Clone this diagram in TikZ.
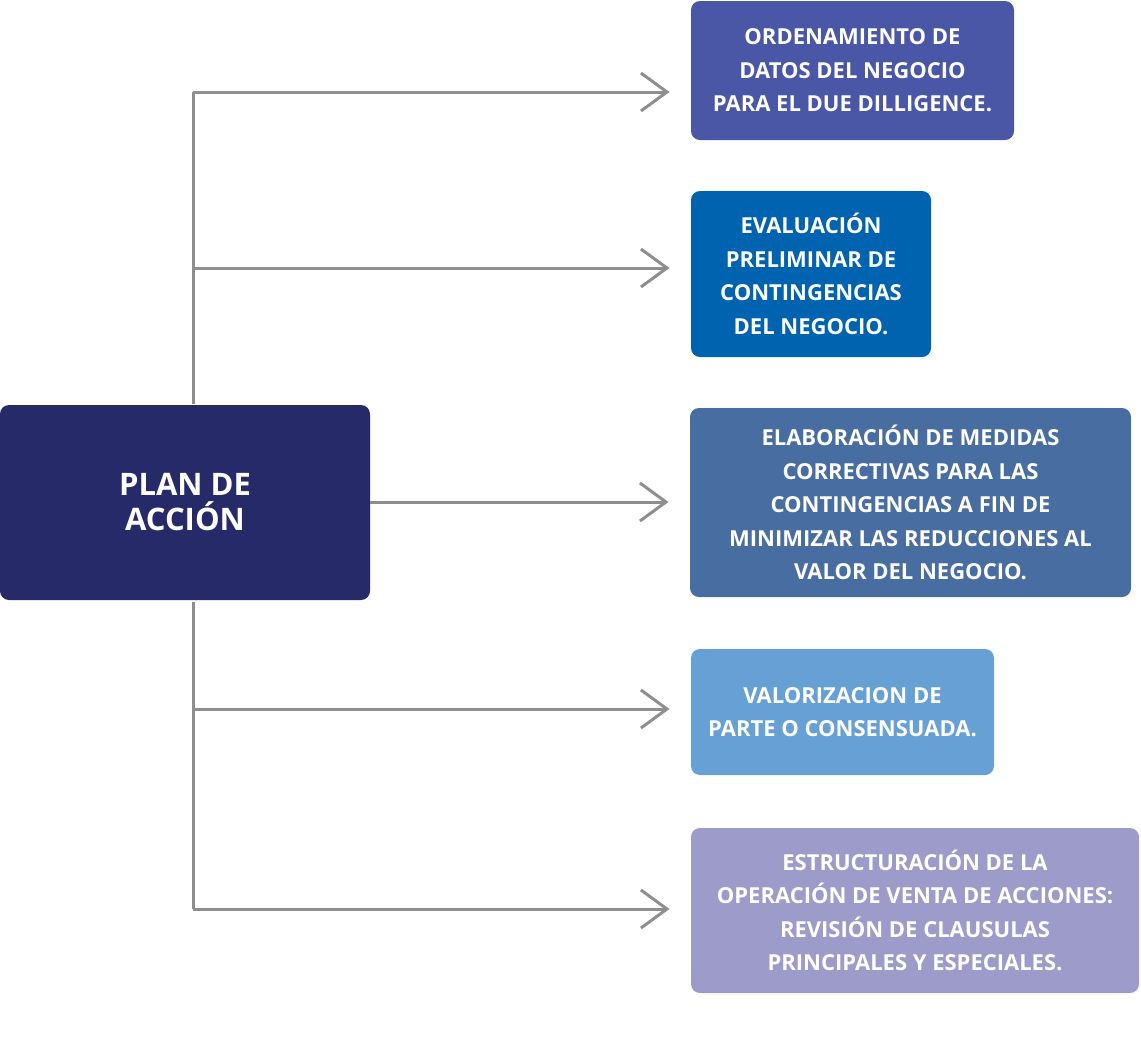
\documentclass[tikz,border=0pt]{standalone}
\usepackage{fontspec}
\setmainfont{Open Sans}
\usetikzlibrary{arrows.meta}
\definecolor{planblue}{HTML}{272A69}
\definecolor{boxone}{HTML}{4A56A6}
\definecolor{boxtwo}{HTML}{0063AF}
\definecolor{boxthree}{HTML}{486DA0}
\definecolor{boxfour}{HTML}{67A0D4}
\definecolor{boxfive}{HTML}{9D9BCA}
\definecolor{linegray}{HTML}{8E8E8E}
\begin{document}
\begin{tikzpicture}[x=1pt, y=-1pt, line width=3pt,
  main node/.style={rectangle, rounded corners=9pt, text=white, align=center, inner sep=0pt, font=\bfseries\fontsize{22}{33.5}\selectfont},
  arr/.style={draw=linegray, -{Straight Barb[length=26pt, width=38pt, line width=3pt]}, shorten >=20pt}]%
\useasboundingbox (0,0) rectangle (1141,1058);
\begin{scope}
\node[main node, fill=planblue, minimum width=370pt, minimum height=195pt, font=\bfseries\fontsize{31}{35}\selectfont] (plan) at (185,502.5) {PLAN DE\\ACCIÓN};
\node[main node, fill=boxone, minimum width=323pt, minimum height=139pt] (b1) at (852.5,70.5) {ORDENAMIENTO DE\\DATOS DEL NEGOCIO\\PARA EL DUE DILLIGENCE.};
\node[main node, fill=boxtwo, minimum width=240pt, minimum height=166pt] (b2) at (811,274) {EVALUACIÓN\\PRELIMINAR DE\\CONTINGENCIAS\\DEL NEGOCIO.};
\node[main node, fill=boxthree, minimum width=441pt, minimum height=189pt] (b3) at (910.5,502.5) {ELABORACIÓN DE MEDIDAS\\CORRECTIVAS PARA LAS\\CONTINGENCIAS A FIN DE\\MINIMIZAR LAS REDUCCIONES AL\\VALOR DEL NEGOCIO.};
\node[main node, fill=boxfour, minimum width=303pt, minimum height=126pt] (b4) at (842.5,712) {VALORIZACION DE\\PARTE O CONSENSUADA.};
\node[main node, fill=boxfive, minimum width=448pt, minimum height=165pt] (b5) at (915,910.5) {ESTRUCTURACIÓN DE LA\\OPERACIÓN DE VENTA DE ACCIONES:\\REVISIÓN DE CLAUSULAS\\PRINCIPALES Y ESPECIALES.};
\coordinate (t1) at (193,92);
\coordinate (t2) at (193,268);
\coordinate (t4) at (193,709);
\coordinate (t5) at (193,909);
\coordinate (t3) at (370,502);
\end{scope}
\begin{scope}[draw=linegray]
\draw[linegray] (t1) -- (t1 |- plan.north);
\draw[linegray] (t5) -- (t5 |- plan.south);
\draw[arr] (t1) -- (t1 -| b1.west);
\draw[arr] (t2) -- (t2 -| b2.west);
\draw[arr] (t3) -- (t3 -| b3.west);
\draw[arr] (t4) -- (t4 -| b4.west);
\draw[arr] (t5) -- (t5 -| b5.west);
\end{scope}
\end{tikzpicture}
\end{document}
